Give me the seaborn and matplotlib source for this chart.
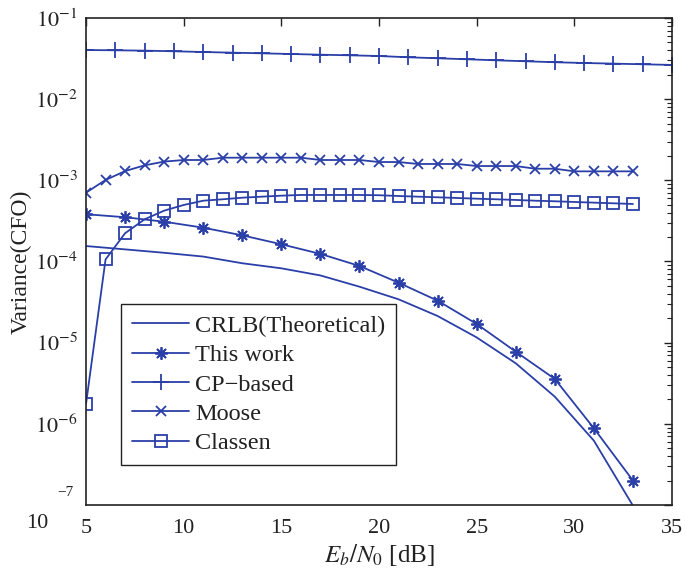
import numpy as np
import pandas as pd
import matplotlib
matplotlib.use("Agg")
import matplotlib.pyplot as plt
import seaborn as sns
from matplotlib.ticker import FixedLocator, LogLocator, NullFormatter, FixedFormatter

# Eb/N0 grids
snr_odd = [5, 7, 9, 11, 13, 15, 17, 19, 21, 23, 25, 27, 29, 31, 33]
snr_int = list(range(5, 34))
snr_cp = [5, 6.5, 8, 9.5, 11, 12.5, 14, 15.5, 17, 18.5, 20, 21.5, 23, 24.5,
          26, 27.5, 29, 30.5, 32, 33.5, 35]

# CFO estimator variance
crlb = [1.55e-4, 1.41e-4, 1.28e-4, 1.15e-4, 9.51e-5, 8.24e-5, 6.73e-5, 4.89e-5,
        3.42e-5, 2.13e-5, 1.16e-5, 5.57e-6, 2.16e-6, 6.20e-7, 9.8e-8]
this_work = [3.82e-4, 3.51e-4, 3.09e-4, 2.61e-4, 2.10e-4, 1.63e-4, 1.24e-4, 8.81e-5,
             5.48e-5, 3.29e-5, 1.70e-5, 7.74e-6, 3.57e-6, 8.81e-7, 2.00e-7]
cp_based = [0.0403, 0.0400, 0.0396, 0.0389, 0.0381, 0.0374, 0.0367, 0.0360, 0.0353,
            0.0347, 0.0340, 0.0328, 0.0319, 0.0310, 0.0301, 0.0293, 0.0285, 0.0279,
            0.0274, 0.0269, 0.0264]
moose = [7.05e-4, 1.01e-3, 1.30e-3, 1.53e-3, 1.70e-3, 1.78e-3, 1.78e-3, 1.90e-3,
         1.90e-3, 1.90e-3, 1.90e-3, 1.90e-3, 1.78e-3, 1.78e-3, 1.78e-3, 1.68e-3,
         1.68e-3, 1.59e-3, 1.59e-3, 1.59e-3, 1.50e-3, 1.50e-3, 1.50e-3, 1.39e-3,
         1.39e-3, 1.29e-3, 1.29e-3, 1.29e-3, 1.29e-3]
classen = [1.76e-6, 1.06e-4, 2.23e-4, 3.31e-4, 4.23e-4, 4.97e-4, 5.61e-4, 5.84e-4,
           6.11e-4, 6.29e-4, 6.47e-4, 6.60e-4, 6.60e-4, 6.60e-4, 6.60e-4, 6.55e-4,
           6.41e-4, 6.29e-4, 6.18e-4, 6.06e-4, 5.94e-4, 5.84e-4, 5.73e-4, 5.61e-4,
           5.52e-4, 5.41e-4, 5.31e-4, 5.21e-4, 5.11e-4]

labels = ["CRLB(Theoretical)", "This work", "CP\u2212based", "Moose", "Classen"]
x_ticks = [5, 10, 15, 20, 25, 30, 35]

sns.set_theme(style="white")
plt.rcParams["font.family"] = ["Liberation Serif", "DejaVu Serif"]
plt.rcParams["mathtext.fontset"] = "stix"

blue = "#2b3fa8"
ink = "#222222"
fig = plt.figure(figsize=(6.86, 5.73), dpi=100)
ax = fig.add_axes([0.1254, 0.1187, 0.8542, 0.8499])

series = [
    (snr_odd, crlb, labels[0], None, 0),
    (snr_odd, this_work, labels[1], (8, 2, 0), 9),
    (snr_cp, cp_based, labels[2], "+", 11),
    (snr_int, moose, labels[3], "x", 7),
    (snr_int, classen, labels[4], "s", 8),
]
for xs, ys, lab, mk, ms in series:
    df = pd.DataFrame({"snr": xs, "var": ys})
    kw = dict(marker=mk, markersize=ms, markerfacecolor="none",
              markeredgecolor=blue, markeredgewidth=1.3) if mk else {}
    sns.lineplot(data=df, x="snr", y="var", ax=ax, color=blue, linewidth=1.3,
                 label=lab, estimator=None, sort=False, **kw)

ax.set_yscale("log")
ax.set_xlim(5, 35)
ax.set_ylim(1e-7, 1e-1)

ax.xaxis.set_major_locator(FixedLocator(x_ticks))
ax.set_xticklabels([str(t) for t in x_ticks])
ax.yaxis.set_major_locator(FixedLocator([1e-7, 1e-6, 1e-5, 1e-4, 1e-3, 1e-2, 1e-1]))
ax.yaxis.set_major_formatter(FixedFormatter(
    ["", r"$10^{-6}$", r"$10^{-5}$", r"$10^{-4}$", r"$10^{-3}$", r"$10^{-2}$", r"$10^{-1}$"]))
ax.yaxis.set_minor_locator(LogLocator(base=10, subs=np.arange(2, 10), numticks=20))
ax.yaxis.set_minor_formatter(NullFormatter())

ax.tick_params(axis="both", which="both", direction="in", top=True, right=True,
               labelsize=16, colors=ink, labelcolor=ink)
ax.tick_params(axis="both", which="major", length=6, width=1.0, pad=6)
ax.tick_params(axis="x", which="major", pad=10)
ax.tick_params(axis="y", which="minor", length=3.5, width=0.8)
for sp in ax.spines.values():
    sp.set_color(ink)
    sp.set_linewidth(1.2)

# bottom decade label drawn in two pieces
fig.text(48 / 686, 1 - 523 / 573, "10", fontsize=16, ha="right", va="center", color=ink)
fig.text(73 / 686, 1 - 492 / 573, "\u22127", fontsize=11, ha="right", va="center", color=ink)

ax.set_xlabel(r"$E_b/N_0$ [dB]", fontsize=18, color=ink, labelpad=3)
ax.set_ylabel("Variance(CFO)", fontsize=17, color=ink, labelpad=2)

leg = ax.legend(loc="lower left", bbox_to_anchor=(0.0597, 0.082), fontsize=17.5,
                frameon=True, fancybox=False, framealpha=1, edgecolor=ink,
                handlelength=2.35, handletextpad=0.25, labelspacing=0.3,
                borderpad=0.45, borderaxespad=0)
leg.get_frame().set_linewidth(1.0)
for t in leg.get_texts():
    t.set_color(ink)

fig.savefig("out.png", dpi=100)
